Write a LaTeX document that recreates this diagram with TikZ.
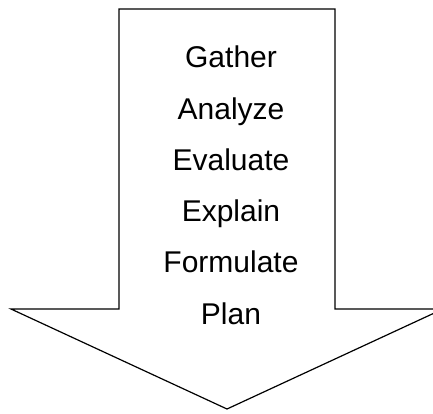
\documentclass[tikz,border=0pt]{standalone}
\usepackage{fontspec}
\setmainfont{Liberation Sans}
\usetikzlibrary{arrows,positioning}

\begin{document}
\begin{tikzpicture}[x=1pt,y=-1pt,node distance=51.3pt,line width=1.2pt]
  \tikzstyle{step text}=[font=\fontsize{30}{36}\selectfont,inner sep=0pt,
                         text height=21pt,text depth=0pt]
  \useasboundingbox (0,0) rectangle (433,413);

  % the big down arrow
  \begin{scope}
    \clip (0,0) rectangle (433,413);
    \draw[line join=miter] (119,9) -- (335,9) -- (335,309) -- (443,309)
        -- (227,409) -- (11,309) -- (119,309) -- cycle;
  \end{scope}

  \node[step text] (gather)   at (231,57.2)          {Gather};
  \node[step text] (analyze)  [below of=gather]    {Analyze};
  \node[step text] (evaluate) [below of=analyze]   {Evaluate};
  \node[step text] (explain)  [below of=evaluate]  {Explain};
  \node[step text] (formulate)[below of=explain]   {Formulate};
  \node[step text] (plan)     [below of=formulate] {Plan};
\end{tikzpicture}
\end{document}
